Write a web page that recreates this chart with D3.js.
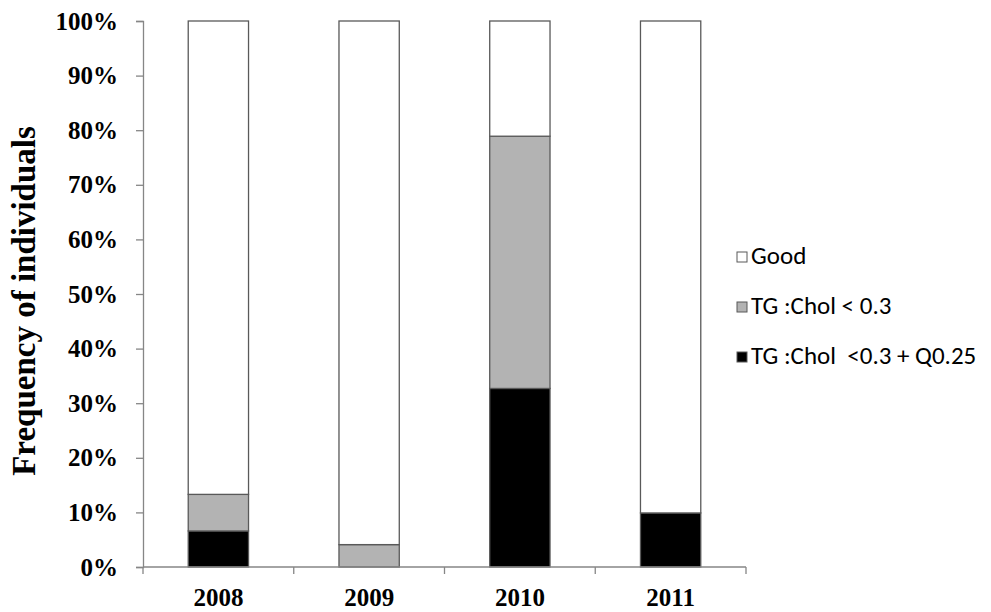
<!DOCTYPE html>
<html>
<head>
<meta charset="utf-8">
<script src="https://cdn.jsdelivr.net/npm/d3@7"></script>
<style>
  body { margin: 0; background: #fff; }
</style>
</head>
<body>
<div id="chart-area"></div>
<script>
// data (percent of individuals)
const years = ["2008", "2009", "2010", "2011"];
const seriesNames = ["TG :Chol  <0.3 + Q0.25", "TG :Chol < 0.3", "Good"];
const lowQ = [6.6, 0, 32.7, 9.9];
const lowTG = [6.7, 4.1, 46.2, 0];
const good = [86.7, 95.9, 21.1, 90.1];
const yTicks = [0, 10, 20, 30, 40, 50, 60, 70, 80, 90, 100];
const colors = ["#000000", "#b3b3b3", "#ffffff"];

const rows = years.map(function (y, i) {
    return { year: y, s0: lowQ[i], s1: lowTG[i], s2: good[i] };
});

const svg = d3.select("#chart-area").append("svg")
    .attr("width", 991)
    .attr("height", 612);

const x = d3.scaleBand()
    .domain(years)
    .range([143, 746])
    .paddingInner(0.6)
    .paddingOuter(0.3);

const y = d3.scaleLinear()
    .domain([0, 100])
    .range([567, 21]);

const stack = d3.stack().keys(["s0", "s1", "s2"]);
const layers = stack(rows);

svg.selectAll("g.layer")
    .data(layers)
    .enter()
    .append("g")
    .attr("class", "layer")
    .attr("fill", function (d, i) { return colors[i]; })
    .selectAll("rect")
    .data(function (d) { return d.filter(function (p) { return p[1] - p[0] > 0; }); })
    .enter()
    .append("rect")
    .attr("x", function (d) { return x(d.data.year); })
    .attr("y", function (d) { return y(d[1]); })
    .attr("width", x.bandwidth())
    .attr("height", function (d) { return y(d[0]) - y(d[1]); })
    .attr("stroke", "#595959")
    .attr("stroke-width", 1.3);

// y axis
const yAxis = svg.append("g")
    .attr("transform", "translate(143,0)")
    .call(d3.axisLeft(y).tickValues(yTicks).tickSize(7).tickFormat(function (d) { return d + "%"; }));
yAxis.select(".domain").attr("stroke", "#868686").attr("stroke-width", 1.3);
yAxis.selectAll(".tick line").attr("stroke", "#868686").attr("stroke-width", 1.3);
yAxis.selectAll(".tick text")
    .attr("x", -25)
    .attr("fill", "#000")
    .style("font-family", "'Liberation Serif', 'Times New Roman', serif")
    .style("font-weight", "bold")
    .style("font-size", "25px");

// x axis with ticks between categories
const xAxis = svg.append("g")
    .attr("transform", "translate(0,567)");
xAxis.append("line")
    .attr("x1", 143).attr("x2", 746)
    .attr("stroke", "#868686").attr("stroke-width", 1.3);
const bounds = d3.range(years.length + 1).map(function (i) { return 143 + i * x.step(); });
xAxis.selectAll("line.tk")
    .data(bounds)
    .enter()
    .append("line")
    .attr("class", "tk")
    .attr("x1", function (d) { return d; })
    .attr("x2", function (d) { return d; })
    .attr("y1", 0).attr("y2", 7)
    .attr("stroke", "#868686").attr("stroke-width", 1.3);
xAxis.selectAll("text")
    .data(years)
    .enter()
    .append("text")
    .attr("x", function (d) { return x(d) + x.bandwidth() / 2; })
    .attr("y", 39)
    .attr("text-anchor", "middle")
    .style("font-family", "'Liberation Serif', 'Times New Roman', serif")
    .style("font-weight", "bold")
    .style("font-size", "25px")
    .text(function (d) { return d; });

// y title
svg.append("text")
    .attr("transform", "translate(35,301) rotate(-90)")
    .attr("text-anchor", "middle")
    .style("font-family", "'Liberation Serif', 'Times New Roman', serif")
    .style("font-weight", "bold")
    .style("font-size", "33px")
    .text("Frequency of individuals");

// legend
const legendItems = seriesNames.slice().reverse();
const legendColors = colors.slice().reverse();
const legend = svg.selectAll("g.legend")
    .data(legendItems)
    .enter()
    .append("g")
    .attr("class", "legend")
    .attr("transform", function (d, i) { return "translate(737," + (256 + i * 50) + ")"; });
legend.append("rect")
    .attr("x", 0).attr("y", -4)
    .attr("width", 10).attr("height", 10)
    .attr("fill", function (d, i) { return legendColors[i]; })
    .attr("stroke", "#595959")
    .attr("stroke-width", 1);
legend.append("text")
    .attr("x", 14)
    .attr("y", 8)
    .style("font-family", "Carlito, Lato, 'Open Sans', sans-serif")
    .style("font-size", "25px")
    .style("white-space", "pre")
    .attr("xml:space", "preserve")
    .text(function (d) { return d; });
</script>
</body>
</html>
